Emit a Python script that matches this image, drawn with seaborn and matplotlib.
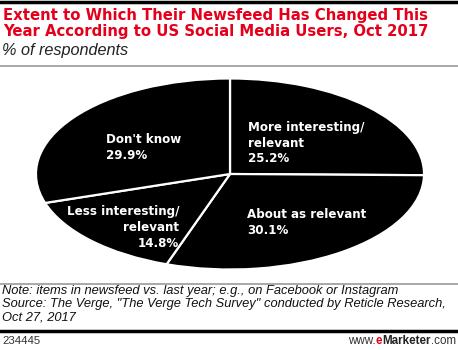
import matplotlib
matplotlib.use("Agg")
import matplotlib.pyplot as plt
import seaborn as sns

categories = ["More interesting/\nrelevant", "About as relevant", "Less interesting/\nrelevant", "Don't know"]
values = [25.2, 30.1, 14.8, 29.9]
value_labels = ["25.2%", "30.1%", "14.8%", "29.9%"]

sns.set_theme(style="white")
plt.rcParams['font.family'] = ['Liberation Sans', 'DejaVu Sans']

W, H = 458, 350
fig = plt.figure(figsize=(W / 100, H / 100), dpi=100)
fig.patch.set_facecolor("white")

def fx(px):
    return px / W

def fy(py):
    return 1 - py / H

# pie axes
left, right, top, bottom = 35, 425, 78, 270
ax = fig.add_axes([fx(left), fy(bottom), (right - left) / W, (bottom - top) / H])
wedges, _ = ax.pie(values, startangle=90, counterclock=False, colors=["black"] * 4,
                   wedgeprops=dict(edgecolor="white", linewidth=1.6))
ax.set_aspect("auto")
ax.set_xlim(-1.005, 1.005)
ax.set_ylim(-1.005, 1.005)
ax.axis("off")

cx, cy, rx, ry = 230, 174, 195, 96

def dc(px, py):
    return ((px - cx) / rx, (cy - py) / ry)

label_pos = [(248, 143, "left"), (247, 223, "left"), (179, 228, "right"), (105, 147, "left")]
for cat, vl, (px, py, ha) in zip(categories, value_labels, label_pos):
    x, y = dc(px, py)
    ax.text(x, y, cat + "\n" + vl, color="white", fontsize=8.6, fontweight="bold",
            family="DejaVu Sans", ha=ha, va="center", linespacing=1.28)

# rules
fig.add_artist(plt.Line2D([0, 1], [fy(1.5), fy(1.5)], color="black", lw=2.5))
fig.add_artist(plt.Line2D([0, 1], [fy(66), fy(66)], color="#999999", lw=1.2))
fig.add_artist(plt.Line2D([0, 1], [fy(284), fy(284)], color="#999999", lw=1.2))
fig.add_artist(plt.Line2D([0, 1], [fy(331), fy(331)], color="black", lw=2.5))

# title
fig.text(fx(3), fy(8), "Extent to Which Their Newsfeed Has Changed This\nYear According to US Social Media Users, Oct 2017",
         color="#e4001b", fontsize=10.7, fontweight="bold", family="DejaVu Sans",
         ha="left", va="top", linespacing=1.12)
fig.text(fx(2), fy(43), "% of respondents", color="#222222", fontsize=11.7, style="italic",
         ha="left", va="top")

# note
fig.text(fx(2), fy(285), "Note: items in newsfeed vs. last year; e.g., on Facebook or Instagram\n"
         "Source: The Verge, \"The Verge Tech Survey\" conducted by Reticle Research,\nOct 27, 2017",
         color="#111111", fontsize=9.3, style="italic", ha="left", va="top", linespacing=1.13)

# footer
fig.text(fx(2), fy(341), "234445", color="#333333", fontsize=8.2, ha="left", va="center")
renderer = fig.canvas.get_renderer()
xr = fx(456)
parts = [(".com", "normal", "#333333"), ("Marketer", "bold", "#222222"), ("e", "bold", "#e4001b"), ("www.", "normal", "#333333")]
for txt, wt, col in parts:
    t = fig.text(xr, fy(341), txt, color=col, fontsize=8.4, fontweight=wt, ha="right", va="center")
    bb = t.get_window_extent(renderer)
    xr = bb.x0 / fig.bbox.width

fig.savefig("out.png", dpi=100, facecolor="white")
